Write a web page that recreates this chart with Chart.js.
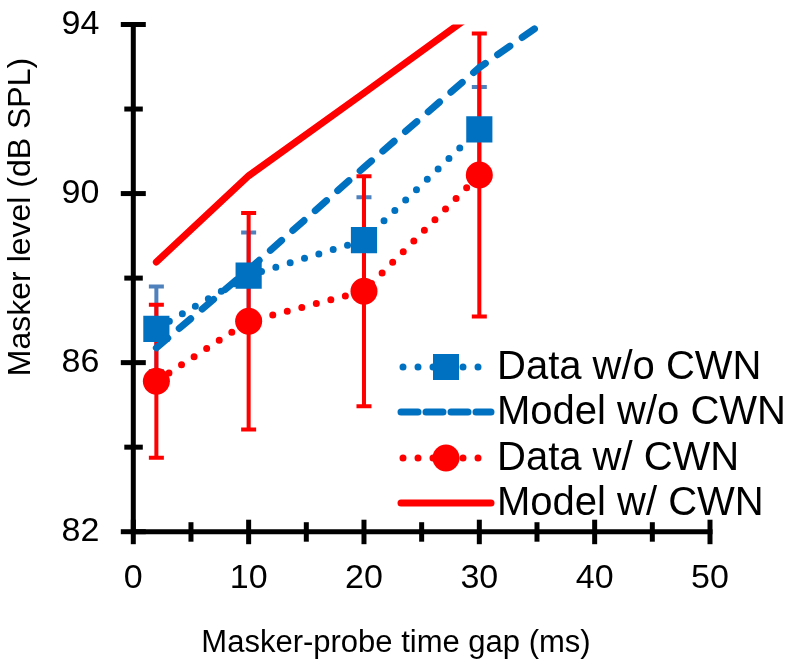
<!DOCTYPE html>
<html><head><meta charset="utf-8">
<script src="https://cdn.jsdelivr.net/npm/chart.js@4.4.0/dist/chart.umd.min.js"></script>
<style>html,body{margin:0;padding:0;background:#fff;}#wrap{width:789px;height:664px;}</style>
</head><body><div id="wrap"><canvas id="c" width="789" height="664"></canvas></div>
<script>
// ---- data ----
const gaps = [2, 10, 20, 30];
const dataNoCwn = [86.80, 88.06, 88.90, 91.52];
const errNoCwn = [1.0, 1.02, 1.01, 1.0];
const dataCwn = [85.56, 86.98, 87.69, 90.44];
const errCwn = [1.81, 2.56, 2.72, 3.35];
const modelGaps = [2, 10, 20, 30, 40];
const modelNoCwn = [86.35, 88.2, 90.62, 92.98, 94.9];
const modelCwn = [88.38, 90.42, 92.38, 94.36, 96.3];
const seriesLabels = ['Data w/o CWN', 'Model w/o CWN', 'Data w/ CWN', 'Model w/ CWN'];
const xTickLabels = ['0', '10', '20', '30', '40', '50'];
const yTickLabels = ['82', '86', '90', '94'];
const xTitle = 'Masker-probe time gap (ms)';
const yTitle = 'Masker level (dB SPL)';

const BLUE = '#0070c0', RED = '#ff0000', ERRBLUE = '#4f81bd';
const FONT = "'Liberation Sans', Arial, Helvetica, sans-serif";

const pts = (xs, ys) => xs.map((x, i) => ({x: x, y: ys[i]}));

const axesPlugin = {
  id: 'axesPlugin',
  beforeDatasetsDraw(chart) {
    const ctx = chart.ctx, a = chart.chartArea;
    const xs = chart.scales.x, ys = chart.scales.y;
    ctx.save();
    ctx.strokeStyle = '#000';
    ctx.lineWidth = 5;
    ctx.lineCap = 'butt';
    ctx.beginPath();
    ctx.moveTo(a.left, a.top - 2);
    ctx.lineTo(a.left, a.bottom + 2.5);
    ctx.moveTo(a.left - 2.5, a.bottom);
    ctx.lineTo(a.right + 2.5, a.bottom);
    ctx.stroke();
    ys.ticks.forEach(t => {
      const y = ys.getPixelForValue(t.value);
      const major = yTickLabels.includes(String(t.value));
      ctx.beginPath();
      if (major) { ctx.moveTo(a.left - 12.5, y); ctx.lineTo(a.left + 12.5, y); }
      else { ctx.moveTo(a.left - 9, y); ctx.lineTo(a.left + 9.5, y); }
      ctx.stroke();
    });
    xs.ticks.forEach(t => {
      const x = xs.getPixelForValue(t.value);
      const major = xTickLabels.includes(String(t.value));
      ctx.beginPath();
      if (major) { ctx.moveTo(x, a.bottom - 12); ctx.lineTo(x, a.bottom + 12.5); }
      else { ctx.moveTo(x, a.bottom - 9.5); ctx.lineTo(x, a.bottom + 10); }
      ctx.stroke();
    });
    // error bars
    chart.data.datasets.forEach(ds => {
      if (!ds.errors) return;
      ctx.strokeStyle = ds.errColor;
      ctx.lineWidth = 4;
      ds.data.forEach((p, i) => {
        const x = xs.getPixelForValue(p.x);
        const yt = ys.getPixelForValue(p.y + ds.errors[i]);
        const yb = ys.getPixelForValue(p.y - ds.errors[i]);
        ctx.beginPath();
        ctx.moveTo(x, yt); ctx.lineTo(x, yb);
        ctx.moveTo(x - 7.5, yt); ctx.lineTo(x + 7.5, yt);
        ctx.moveTo(x - 7.5, yb); ctx.lineTo(x + 7.5, yb);
        ctx.stroke();
      });
    });
    ctx.restore();
  },
  afterDraw(chart) {
    const ctx = chart.ctx;
    ctx.save();
    ctx.fillStyle = '#000';
    // axis titles
    ctx.font = '31px ' + FONT;
    ctx.textAlign = 'center';
    ctx.textBaseline = 'alphabetic';
    ctx.fillText(xTitle, 396, 652);
    ctx.save();
    ctx.translate(30, 217);
    ctx.rotate(-Math.PI / 2);
    ctx.font = '32px ' + FONT;
    ctx.fillText(yTitle, 0, 0);
    ctx.restore();
    // legend
    const rowY = [367, 412, 458, 503];
    const x0 = 401, x1 = 491, xm = 446;
    chart.data.datasets.forEach((ds, i) => {
      const y = rowY[i];
      ctx.save();
      ctx.strokeStyle = ds.borderColor;
      ctx.lineWidth = ds.borderWidth;
      ctx.lineCap = 'round';
      ctx.setLineDash(ds.legendDash || []);
      ctx.beginPath();
      ctx.moveTo(x0 + (ds.legendStart || 0), y);
      ctx.lineTo(x1, y);
      ctx.stroke();
      ctx.restore();
      if (ds.pointRadius > 0) {
        ctx.fillStyle = ds.backgroundColor;
        ctx.beginPath();
        if (ds.pointStyle === 'rect') {
          ctx.rect(xm - 13, y - 13, 26, 26);
        } else {
          ctx.arc(xm, y, 13.5, 0, Math.PI * 2);
        }
        ctx.fill();
      }
      ctx.fillStyle = '#000';
      ctx.font = '40px ' + FONT;
      ctx.textAlign = 'left';
      ctx.textBaseline = 'middle';
      ctx.fillText(ds.label, 497, y + 1);
    });
    ctx.restore();
  }
};

const chart = new Chart(document.getElementById('c'), {
  type: 'line',
  data: {
    datasets: [
      {label: seriesLabels[0], data: pts(gaps, dataNoCwn), errors: errNoCwn, errColor: ERRBLUE,
       borderColor: BLUE, backgroundColor: BLUE, borderWidth: 7, borderDash: [0, 15], borderCapStyle: 'round',
       legendDash: [0, 15], legendStart: 2,
       pointStyle: 'rect', pointRadius: 18.5, pointBorderWidth: 0, order: 0},
      {label: seriesLabels[1], data: pts(modelGaps, modelNoCwn),
       borderColor: BLUE, backgroundColor: BLUE, borderWidth: 7, borderDash: [15, 15], borderCapStyle: 'round',
       legendDash: [17, 8],
       pointRadius: 0, order: 2},
      {label: seriesLabels[2], data: pts(gaps, dataCwn), errors: errCwn, errColor: RED,
       borderColor: RED, backgroundColor: RED, borderWidth: 7, borderDash: [0, 15], borderCapStyle: 'round',
       legendDash: [0, 15], legendStart: 2,
       pointStyle: 'circle', pointRadius: 13.5, pointBorderWidth: 0, order: 1},
      {label: seriesLabels[3], data: pts(modelGaps, modelCwn),
       borderColor: RED, backgroundColor: RED, borderWidth: 7, borderCapStyle: 'round',
       pointRadius: 0, order: 3}
    ]
  },
  options: {
    responsive: false,
    animation: false,
    devicePixelRatio: 1,
    layout: {padding: {top: 24.5, right: 79, left: 0, bottom: 0}},
    plugins: {legend: {display: false}, tooltip: {enabled: false}},
    elements: {line: {tension: 0}},
    scales: {
      x: {
        type: 'linear', min: 0, max: 50,
        grid: {display: false, drawTicks: true, tickLength: 30},
        border: {display: false},
        ticks: {stepSize: 5, autoSkip: false, maxRotation: 0, padding: 0,
          color: '#000', font: {family: FONT, size: 34, lineHeight: 1},
          callback: v => xTickLabels.includes(String(v)) ? String(v) : ''},
        afterFit: s => { s.height = 132.3; }
      },
      y: {
        type: 'linear', min: 82, max: 94,
        grid: {display: false, drawTicks: true, tickLength: 34},
        border: {display: false},
        ticks: {stepSize: 2, autoSkip: false, padding: 0,
          color: '#000', font: {family: FONT, size: 34, lineHeight: 1},
          callback: v => yTickLabels.includes(String(v)) ? String(v) : ''},
        afterFit: s => { s.width = 133.3; }
      }
    }
  },
  plugins: [axesPlugin]
});
</script></body></html>
